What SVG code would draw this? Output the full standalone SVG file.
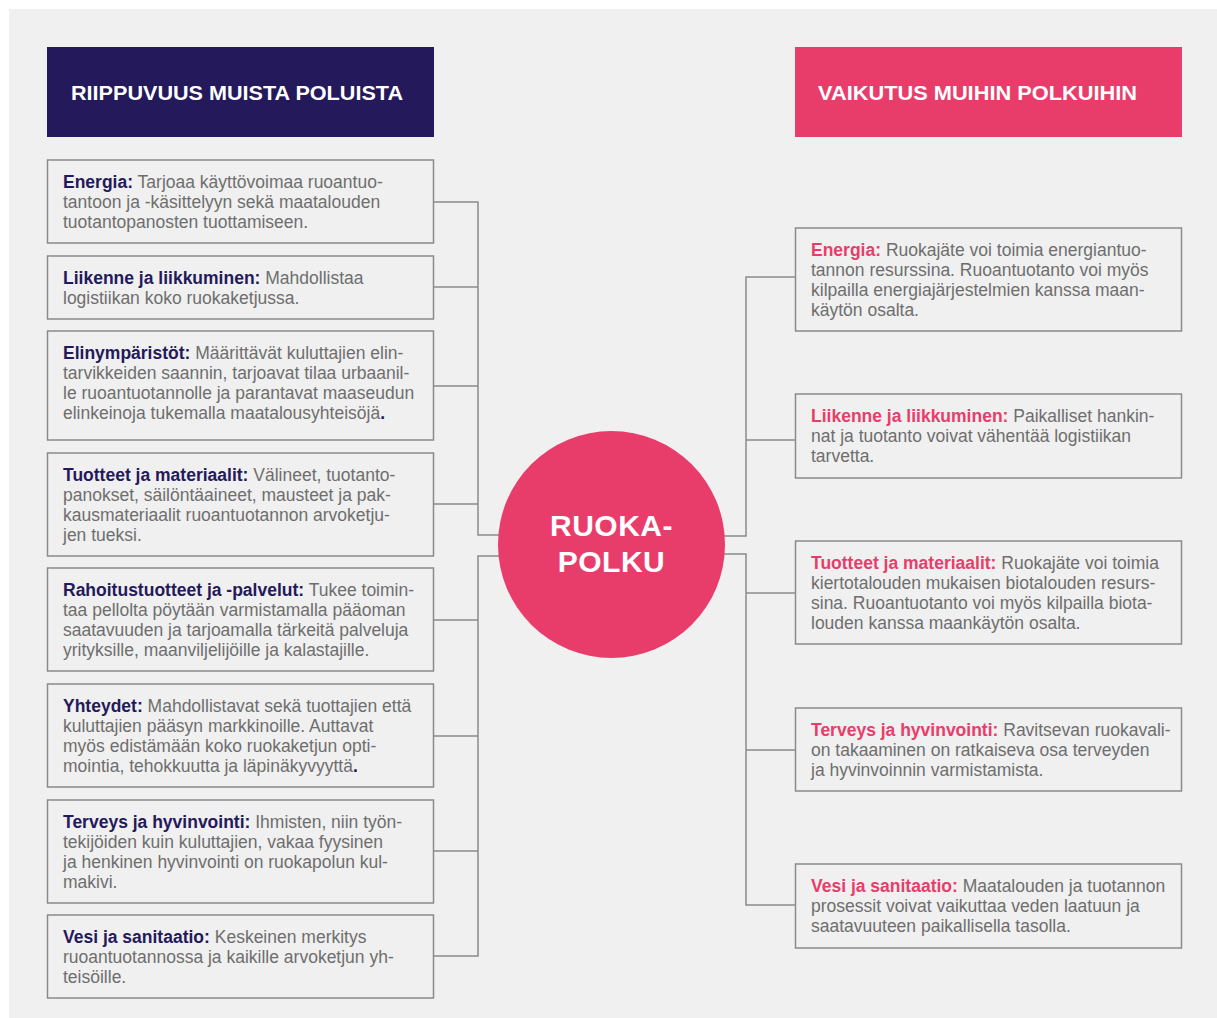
<svg xmlns="http://www.w3.org/2000/svg" width="1217" height="1018" viewBox="0 0 1217 1018">
<style>
.box{fill:#f0f0f0;stroke:#8a8a8a;stroke-width:1.5}
.t{font-family:"Liberation Sans",Arial,sans-serif;font-size:17.5px;fill:#6e6e6e}
.bn{font-weight:bold;fill:#24195b}
.bp{font-weight:bold;fill:#e83d6b}
.hd{font-family:"Liberation Sans",Arial,sans-serif;font-size:21px;font-weight:bold;fill:#ffffff}
.cn{fill:none;stroke:#8a8a8a;stroke-width:1.5}
</style>
<rect x="0" y="0" width="1217" height="1018" fill="#ffffff"/>
<rect x="9" y="9" width="1208" height="1009" fill="#f0f0f0"/>

<g id="connectors">
<path class="cn" d="M433.5 202H478V535H505 M433.5 287H478 M433.5 386H478 M433.5 504H478"/>
<path class="cn" d="M505 556H478V956H433.5 M433.5 620H478 M433.5 736H478 M433.5 851H478"/>
<path class="cn" d="M795.5 277H746V536H718 M795.5 440H746"/>
<path class="cn" d="M718 554H746V905H795.5 M746 593H795.5 M746 750H795.5"/>
</g>

<g id="header-left">
<rect x="47" y="47" width="387" height="90" fill="#24195b"/>
<text class="hd" x="71" y="100" textLength="332" lengthAdjust="spacingAndGlyphs">RIIPPUVUUS MUISTA POLUISTA</text>
</g>
<g id="header-right">
<rect x="795" y="47" width="387" height="90" fill="#e83d6b"/>
<text class="hd" x="818" y="100" textLength="319" lengthAdjust="spacingAndGlyphs">VAIKUTUS MUIHIN POLKUIHIN</text>
</g>

<g id="center">
<circle cx="611.5" cy="544.5" r="113.5" fill="#e83d6b"/>
<text x="611.5" y="536" text-anchor="middle" font-family="Liberation Sans,Arial,sans-serif" font-size="30" font-weight="bold" fill="#ffffff" letter-spacing="0.5">RUOKA-</text>
<text x="611.5" y="572" text-anchor="middle" font-family="Liberation Sans,Arial,sans-serif" font-size="30" font-weight="bold" fill="#ffffff" letter-spacing="0.5">POLKU</text>
</g>

<g id="l-energia">
<rect class="box" x="47.5" y="160" width="386" height="83"/>
<text class="t" x="63" y="188"><tspan class="bn">Energia:</tspan> Tarjoaa käyttövoimaa ruoantuo-<tspan x="63" dy="20">tantoon ja -käsittelyyn sekä maatalouden</tspan><tspan x="63" dy="20">tuotantopanosten tuottamiseen.</tspan></text>
</g>
<g id="l-liikenne">
<rect class="box" x="47.5" y="256" width="386" height="63"/>
<text class="t" x="63" y="284"><tspan class="bn">Liikenne ja liikkuminen:</tspan> Mahdollistaa<tspan x="63" dy="20">logistiikan koko ruokaketjussa.</tspan></text>
</g>
<g id="l-elinymparistot">
<rect class="box" x="47.5" y="331" width="386" height="109"/>
<text class="t" x="63" y="359"><tspan class="bn">Elinympäristöt:</tspan> Määrittävät kuluttajien elin-<tspan x="63" dy="20">tarvikkeiden saannin, tarjoavat tilaa urbaanil-</tspan><tspan x="63" dy="20">le ruoantuotannolle ja parantavat maaseudun</tspan><tspan x="63" dy="20">elinkeinoja tukemalla maatalousyhteisöjä</tspan><tspan class="bn">.</tspan></text>
</g>
<g id="l-tuotteet">
<rect class="box" x="47.5" y="453" width="386" height="103"/>
<text class="t" x="63" y="481"><tspan class="bn">Tuotteet ja materiaalit:</tspan> Välineet, tuotanto-<tspan x="63" dy="20">panokset, säilöntäaineet, mausteet ja pak-</tspan><tspan x="63" dy="20">kausmateriaalit ruoantuotannon arvoketju-</tspan><tspan x="63" dy="20">jen tueksi.</tspan></text>
</g>
<g id="l-rahoitus">
<rect class="box" x="47.5" y="568" width="386" height="103"/>
<text class="t" x="63" y="596"><tspan class="bn">Rahoitustuotteet ja -palvelut:</tspan> Tukee toimin-<tspan x="63" dy="20">taa pellolta pöytään varmistamalla pääoman</tspan><tspan x="63" dy="20">saatavuuden ja tarjoamalla tärkeitä palveluja</tspan><tspan x="63" dy="20">yrityksille, maanviljelijöille ja kalastajille.</tspan></text>
</g>
<g id="l-yhteydet">
<rect class="box" x="47.5" y="684" width="386" height="103"/>
<text class="t" x="63" y="712"><tspan class="bn">Yhteydet:</tspan> Mahdollistavat sekä tuottajien että<tspan x="63" dy="20">kuluttajien pääsyn markkinoille. Auttavat</tspan><tspan x="63" dy="20">myös edistämään koko ruokaketjun opti-</tspan><tspan x="63" dy="20">mointia, tehokkuutta ja läpinäkyvyyttä</tspan><tspan class="bn">.</tspan></text>
</g>
<g id="l-terveys">
<rect class="box" x="47.5" y="800" width="386" height="103"/>
<text class="t" x="63" y="828"><tspan class="bn">Terveys ja hyvinvointi:</tspan> Ihmisten, niin työn-<tspan x="63" dy="20">tekijöiden kuin kuluttajien, vakaa fyysinen</tspan><tspan x="63" dy="20">ja henkinen hyvinvointi on ruokapolun kul-</tspan><tspan x="63" dy="20">makivi.</tspan></text>
</g>
<g id="l-vesi">
<rect class="box" x="47.5" y="915" width="386" height="83"/>
<text class="t" x="63" y="943"><tspan class="bn">Vesi ja sanitaatio:</tspan> Keskeinen merkitys<tspan x="63" dy="20">ruoantuotannossa ja kaikille arvoketjun yh-</tspan><tspan x="63" dy="20">teisöille.</tspan></text>
</g>

<g id="r-energia">
<rect class="box" x="795.5" y="228" width="386" height="103"/>
<text class="t" x="811" y="256"><tspan class="bp">Energia:</tspan> Ruokajäte voi toimia energiantuo-<tspan x="811" dy="20">tannon resurssina. Ruoantuotanto voi myös</tspan><tspan x="811" dy="20">kilpailla energiajärjestelmien kanssa maan-</tspan><tspan x="811" dy="20">käytön osalta.</tspan></text>
</g>
<g id="r-liikenne">
<rect class="box" x="795.5" y="394" width="386" height="84"/>
<text class="t" x="811" y="422"><tspan class="bp">Liikenne ja liikkuminen:</tspan> Paikalliset hankin-<tspan x="811" dy="20">nat ja tuotanto voivat vähentää logistiikan</tspan><tspan x="811" dy="20">tarvetta.</tspan></text>
</g>
<g id="r-tuotteet">
<rect class="box" x="795.5" y="541" width="386" height="103"/>
<text class="t" x="811" y="569"><tspan class="bp">Tuotteet ja materiaalit:</tspan> Ruokajäte voi toimia<tspan x="811" dy="20">kiertotalouden mukaisen biotalouden resurs-</tspan><tspan x="811" dy="20">sina. Ruoantuotanto voi myös kilpailla biota-</tspan><tspan x="811" dy="20">louden kanssa maankäytön osalta.</tspan></text>
</g>
<g id="r-terveys">
<rect class="box" x="795.5" y="708" width="386" height="83"/>
<text class="t" x="811" y="736"><tspan class="bp">Terveys ja hyvinvointi:</tspan> Ravitsevan ruokavali-<tspan x="811" dy="20">on takaaminen on ratkaiseva osa terveyden</tspan><tspan x="811" dy="20">ja hyvinvoinnin varmistamista.</tspan></text>
</g>
<g id="r-vesi">
<rect class="box" x="795.5" y="864" width="386" height="84"/>
<text class="t" x="811" y="892"><tspan class="bp">Vesi ja sanitaatio:</tspan> Maatalouden ja tuotannon<tspan x="811" dy="20">prosessit voivat vaikuttaa veden laatuun ja</tspan><tspan x="811" dy="20">saatavuuteen paikallisella tasolla.</tspan></text>
</g>
</svg>
